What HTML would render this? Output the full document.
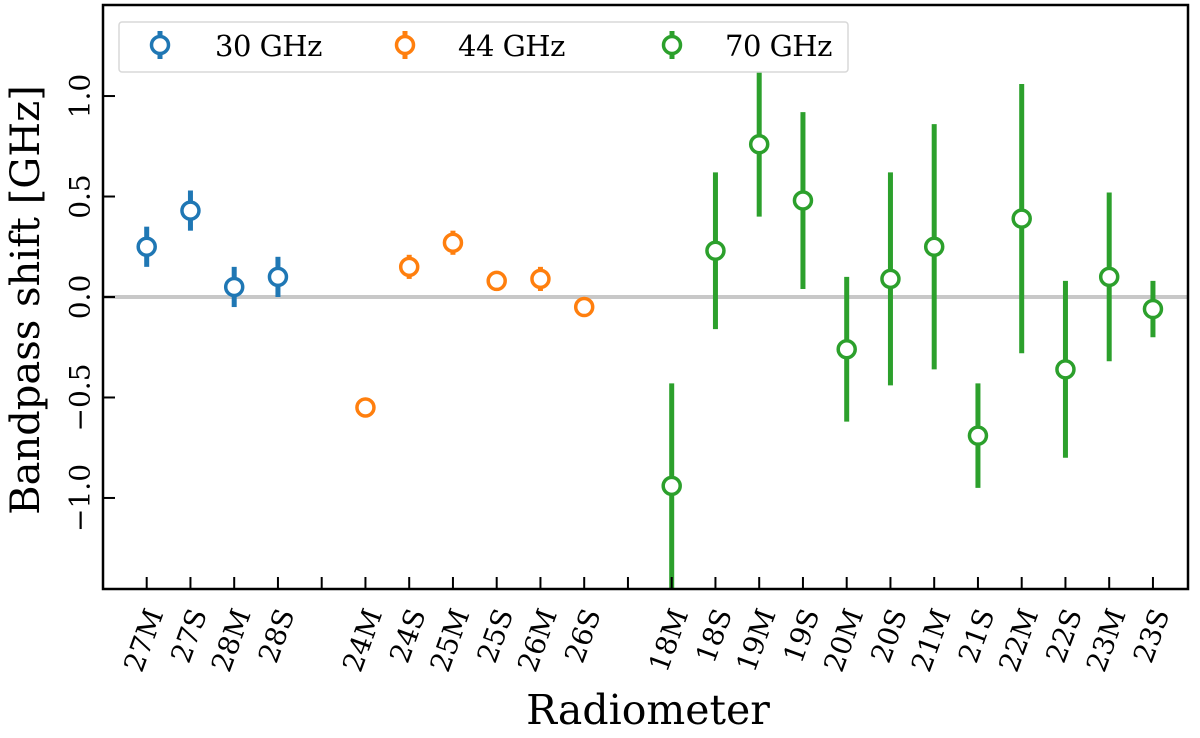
<!DOCTYPE html>
<html><head><meta charset="utf-8"><style>
html,body{margin:0;padding:0;background:#fff}
svg{display:block}
text{font-family:"DejaVu Serif","Liberation Serif",serif;fill:#000}
</style></head><body>
<svg id="chart" width="1200" height="738">
<g id="plot"></g>
</svg>
<script>
const labels=["27M","27S","28M","28S","","24M","24S","25M","25S","26M","26S","","18M","18S","19M","19S","20M","20S","21M","21S","22M","22S","23M","23S"];
const idx30=[0,1,2,3];
const val30=[0.25,0.43,0.05,0.10];
const err30=[0.10,0.10,0.10,0.10];
const idx44=[5,6,7,8,9,10];
const val44=[-0.55,0.15,0.27,0.08,0.09,-0.05];
const err44=[0.03,0.06,0.06,0.05,0.06,0.02];
const idx70=[12,13,14,15,16,17,18,19,20,21,22,23];
const val70=[-0.94,0.23,0.76,0.48,-0.26,0.09,0.25,-0.69,0.39,-0.36,0.10,-0.06];
const err70=[0.51,0.39,0.36,0.44,0.36,0.53,0.61,0.26,0.67,0.44,0.42,0.14];
const yTicks=[-1.0,-0.5,0.0,0.5,1.0];
const yTickLabels=["\u22121.0","\u22120.5","0.0","0.5","1.0"];

const L=103,R=1188,T=5,B=589,YMIN=-1.453,YMAX=1.453;
const xs=i=>146.7+i*43.75;
const ys=v=>B-(v-YMIN)/(YMAX-YMIN)*(B-T);
const NS="http://www.w3.org/2000/svg";
const g=document.getElementById('plot');
function mk(t,a,p){const e=document.createElementNS(NS,t);for(const k in a)e.setAttribute(k,a[k]);(p||g).appendChild(e);return e;}
const defs=mk('defs',{});const cp=mk('clipPath',{id:'c'},defs);mk('rect',{x:L,y:T,width:R-L,height:B-T},cp);

let z=mk('line',{x1:L,x2:R,y1:ys(0),y2:ys(0),stroke:'#c8c8c8','stroke-width':4});



function series(idx,val,err,col,name){
  const sg=mk('g',{'clip-path':'url(#c)'});
  
  
  idx.forEach((i,k)=>{
    const x=xs(i);
    const eb=mk('line',{x1:x,x2:x,y1:ys(val[k]-err[k]),y2:ys(val[k]+err[k]),stroke:col,'stroke-width':5},sg);
    
    
    const c=mk('circle',{cx:x,cy:ys(val[k]),r:8.5,fill:'#fff',stroke:col,'stroke-width':3.5},sg);
    
    
  });
}
series(idx30,val30,err30,'#1f77b4','30ghz');
series(idx44,val44,err44,'#ff7f0e','44ghz');
series(idx70,val70,err70,'#2ca02c','70ghz');

let fr=mk('rect',{x:L,y:T,width:R-L,height:B-T,fill:'none',stroke:'#000','stroke-width':2.5});



labels.forEach((lab,i)=>{
  const x=xs(i);
  mk('line',{x1:x,x2:x,y1:B,y2:B-12,stroke:'#000','stroke-width':2});
  if(lab){
    const t=mk('text',{x:x+8,y:610,'text-anchor':'end','dominant-baseline':'central','font-size':28,transform:`rotate(-70 ${x+8} 610)`});
    t.textContent=lab;
    
    
  }
});
yTicks.forEach((v,k)=>{
  const y=ys(v);
  mk('line',{x1:L,x2:L+12,y1:y,y2:y,stroke:'#000','stroke-width':2});
  const t=mk('text',{x:80,y:y,'text-anchor':'middle','dominant-baseline':'central','font-size':28,transform:`rotate(-90 80 ${y})`});
  t.textContent=yTickLabels[k];
  
  
});
let yl=mk('text',{x:26,y:300,'text-anchor':'middle','dominant-baseline':'central','font-size':40,transform:'rotate(-90 26 300)'});
yl.textContent='Bandpass shift [GHz]';


let xl=mk('text',{x:648,y:724,'text-anchor':'middle','font-size':41});
xl.textContent='Radiometer';



const lg=mk('g',{});


mk('rect',{x:119,y:22,width:729,height:50,rx:3,fill:'#fff',stroke:'#d8d8d8','stroke-width':1.5},lg);
[['30 GHz','#1f77b4',160,215],['44 GHz','#ff7f0e',405,458],['70 GHz','#2ca02c',672,725]].forEach(e=>{
  const eg=mk('g',{},lg);
  
  
  mk('line',{x1:e[2],x2:e[2],y1:31,y2:59,stroke:e[1],'stroke-width':5},eg);
  mk('circle',{cx:e[2],cy:45,r:8.5,fill:'#fff',stroke:e[1],'stroke-width':3.5},eg);
  const t=mk('text',{x:e[3],y:46,'dominant-baseline':'central','font-size':29,'letter-spacing':-0.5},eg);
  t.textContent=e[0];
});
</script>
</body></html>
